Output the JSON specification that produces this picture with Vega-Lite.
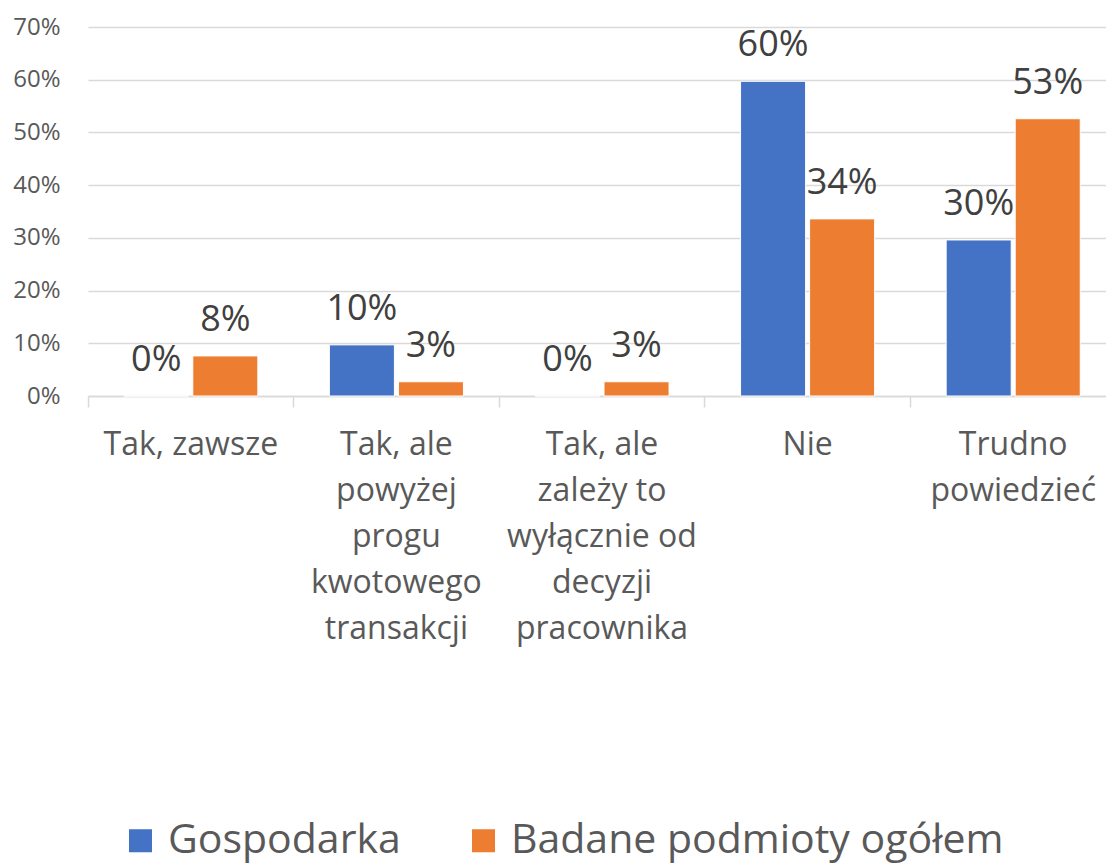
{
  "$schema": "https://vega.github.io/schema/vega-lite/v6.json",
  "width": 1028,
  "height": 369,
  "autosize": {"type": "none"},
  "padding": {"left": 88, "top": 27, "right": 0, "bottom": 469},
  "background": "white",
  "config": {
    "font": "Open Sans",
    "view": {"stroke": null}
  },
  "data": {
    "values": [
      {"kategoria": "Tak, zawsze", "seria": "Gospodarka", "wartosc": 0.0},
      {"kategoria": "Tak, zawsze", "seria": "Badane podmioty ogółem", "wartosc": 0.076},
      {"kategoria": "Tak, ale powyżej progu kwotowego transakcji", "seria": "Gospodarka", "wartosc": 0.097},
      {"kategoria": "Tak, ale powyżej progu kwotowego transakcji", "seria": "Badane podmioty ogółem", "wartosc": 0.027},
      {"kategoria": "Tak, ale zależy to wyłącznie od decyzji pracownika", "seria": "Gospodarka", "wartosc": 0.0},
      {"kategoria": "Tak, ale zależy to wyłącznie od decyzji pracownika", "seria": "Badane podmioty ogółem", "wartosc": 0.027},
      {"kategoria": "Nie", "seria": "Gospodarka", "wartosc": 0.597},
      {"kategoria": "Nie", "seria": "Badane podmioty ogółem", "wartosc": 0.336},
      {"kategoria": "Trudno powiedzieć", "seria": "Gospodarka", "wartosc": 0.296},
      {"kategoria": "Trudno powiedzieć", "seria": "Badane podmioty ogółem", "wartosc": 0.526}
    ]
  },
  "encoding": {
    "x": {
      "field": "kategoria",
      "type": "nominal",
      "sort": null,
      "scale": {"paddingInner": 0, "paddingOuter": 0},
      "axis": {
        "title": null,
        "labelAngle": 0,
        "bandPosition": 0,
        "domainColor": "#d9d9d9",
        "domainWidth": 1.5,
        "tickColor": "#d9d9d9",
        "tickWidth": 1.5,
        "tickSize": 11,
        "labelFontSize": 32,
        "labelColor": "#595959",
        "labelLineHeight": 46,
        "labelPadding": 22,
        "labelLimit": 400,
        "labelBaseline": "top",
        "labelExpr": "datum.label == 'Tak, ale powyżej progu kwotowego transakcji' ? ['Tak, ale', 'powyżej', 'progu', 'kwotowego', 'transakcji'] : datum.label == 'Tak, ale zależy to wyłącznie od decyzji pracownika' ? ['Tak, ale', 'zależy to', 'wyłącznie od', 'decyzji', 'pracownika'] : datum.label == 'Trudno powiedzieć' ? ['Trudno', 'powiedzieć'] : datum.label"
      }
    },
    "xOffset": {
      "field": "seria",
      "type": "nominal",
      "sort": ["Gospodarka", "Badane podmioty ogółem"],
      "scale": {"paddingInner": 0.058, "paddingOuter": 0.518}
    },
    "y": {
      "field": "wartosc",
      "type": "quantitative",
      "scale": {"domain": [0, 0.7]},
      "axis": {
        "title": null,
        "format": ".0%",
        "values": [0, 0.1, 0.2, 0.3, 0.4, 0.5, 0.6, 0.7],
        "domain": false,
        "ticks": false,
        "gridColor": "#d9d9d9",
        "gridWidth": 1.5,
        "labelFontSize": 24,
        "labelColor": "#595959",
        "labelPadding": 28
      }
    }
  },
  "layer": [
    {
      "mark": {"type": "bar", "stroke": "white", "strokeWidth": 1},
      "encoding": {
        "color": {
          "field": "seria",
          "type": "nominal",
          "sort": ["Gospodarka", "Badane podmioty ogółem"],
          "scale": {"domain": ["Gospodarka", "Badane podmioty ogółem"], "range": ["#4472C4", "#ED7D31"]},
          "legend": {
            "title": null,
            "orient": "none",
            "direction": "horizontal",
            "legendX": 32,
            "legendY": 793,
            "symbolType": "square",
            "symbolSize": 530,
            "symbolStrokeWidth": 0,
            "labelFontSize": 41,
            "labelColor": "#595959",
            "labelOffset": 7,
            "columnPadding": 62,
            "labelLimit": 700
          }
        }
      }
    },
    {
      "mark": {"type": "text", "fontSize": 36, "color": "#404040", "baseline": "alphabetic", "dy": -25},
      "encoding": {
        "text": {"field": "wartosc", "type": "quantitative", "format": ".0%"}
      }
    }
  ]
}
